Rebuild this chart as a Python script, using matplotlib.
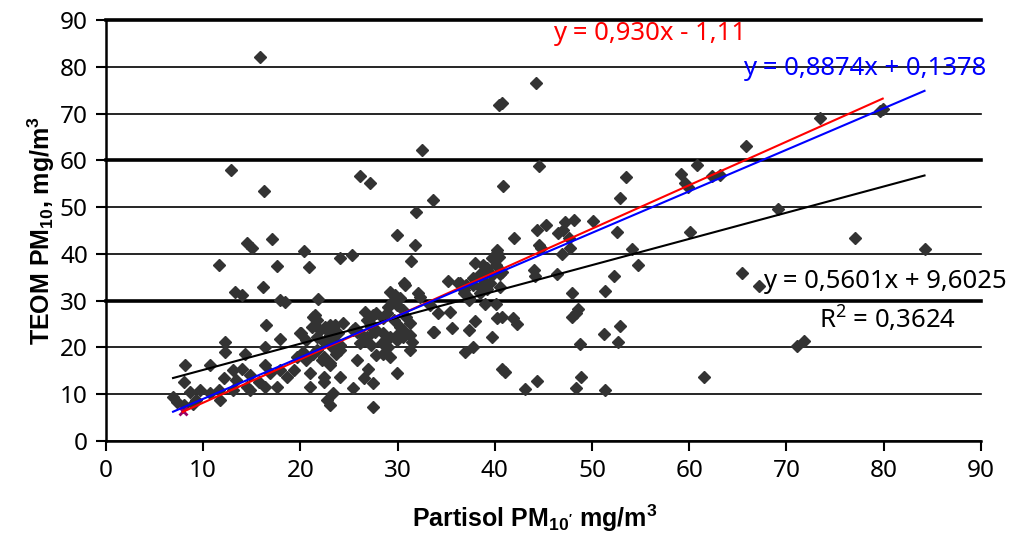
import numpy as np
import matplotlib
matplotlib.use("Agg")
import matplotlib.pyplot as plt

plt.rcParams['font.family'] = ['Noto Sans', 'DejaVu Sans']
plt.rcParams['mathtext.default'] = 'regular'

# Partisol PM10 (x) vs TEOM PM10 (y)
partisol = [
    15.8, 40.4, 40.7, 44.2, 32.5, 12.9, 44.5, 26.1, 27.2, 16.3,
    53.5, 52.9, 40.8, 33.6, 31.9, 59.1, 60.8, 59.6, 59.9, 62.3,
    63.2, 65.8, 73.5, 79.6, 79.9, 69.1, 60.1, 77.0, 84.2, 65.4,
    67.2, 71.1, 71.8, 61.5, 47.2, 48.1, 47.0, 46.5, 47.6, 47.7,
    46.9, 50.1, 52.6, 54.1, 54.7, 52.3, 51.3, 47.9, 48.6, 47.9,
    48.8, 48.9, 48.4, 51.3, 51.2, 52.9, 52.7, 46.4, 45.3, 44.3,
    42.0, 44.5, 44.8, 40.2, 39.7, 40.4, 40.1, 38.0, 38.8, 39.2,
    40.7, 44.0, 44.1, 37.8, 35.2, 36.2, 36.8, 38.5, 39.0, 39.5,
    40.5, 32.3, 33.3, 34.2, 35.4, 37.3, 39.0, 40.1, 40.2, 41.9,
    42.3, 48.4, 33.6, 35.6, 37.3, 38.0, 39.7, 40.7, 36.9, 37.8,
    40.7, 41.0, 44.3, 43.1, 29.9, 31.8, 20.4, 20.9, 24.1, 25.3,
    31.4, 36.4, 36.8, 37.8, 30.7, 32.1, 29.2, 29.7, 30.2, 29.4,
    29.0, 29.9, 30.6, 28.9, 29.6, 30.2, 31.3, 30.9, 30.1, 29.9,
    30.6, 31.3, 31.5, 21.8, 21.3, 21.7, 21.2, 22.0, 22.5, 23.0,
    23.7, 23.4, 24.1, 22.4, 21.7, 20.6, 20.0, 20.3, 25.6, 26.1,
    26.8, 27.8, 27.3, 28.5, 27.3, 27.7, 28.5, 27.3, 28.4, 29.0,
    28.5, 29.2, 27.8, 33.7, 31.3, 13.3, 14.0, 17.9, 18.4, 21.5,
    22.5, 23.6, 23.9, 16.5, 20.1, 17.9, 12.2, 12.2, 14.3, 16.4,
    8.1, 10.7, 8.0, 6.9, 8.6, 9.7, 10.7, 11.6, 12.1, 13.1,
    14.0, 14.8, 13.4, 14.5, 13.1, 15.7, 16.4, 16.9, 17.9, 17.6,
    18.6, 19.3, 19.6, 20.6, 21.7, 22.4, 23.0, 23.7, 21.0, 22.4,
    21.0, 22.4, 22.7, 23.0, 24.1, 9.3, 9.0, 8.0, 7.3, 11.7,
    14.8, 16.4, 25.4, 26.8, 27.5, 29.2, 29.9, 25.8, 25.4, 26.5,
    27.5, 27.5, 23.4, 22.2, 23.4, 23.0, 21.3, 24.1, 26.1, 27.8,
    28.7, 14.5, 15.0, 17.1, 11.6, 17.6, 16.2, 38.5, 39.7, 40.5,
    39.2, 38.5, 37.3, 37.0, 23.0, 24.4, 25.8, 27.2, 26.6, 30.6,
    30.8, 29.9, 40.2, 27.0,
]
teom = [
    82.0, 71.8, 72.2, 76.6, 62.2, 57.9, 58.8, 56.6, 55.1, 53.4,
    56.4, 51.9, 54.5, 51.6, 48.9, 57.1, 59.0, 55.1, 54.4, 56.6,
    56.9, 63.1, 69.0, 70.5, 70.9, 49.5, 44.7, 43.5, 41.1, 36.0,
    33.1, 20.3, 21.4, 13.7, 46.9, 47.2, 45.1, 44.4, 43.3, 41.2,
    40.0, 47.0, 44.7, 41.1, 37.6, 35.3, 32.1, 31.7, 28.2, 26.6,
    20.7, 13.6, 11.3, 10.9, 22.9, 24.6, 21.1, 35.8, 46.2, 45.1,
    43.5, 41.9, 41.2, 40.8, 39.1, 39.4, 37.6, 38.1, 37.6, 36.9,
    36.2, 36.6, 35.3, 34.8, 34.3, 33.7, 31.6, 33.0, 34.1, 33.7,
    33.0, 30.8, 29.1, 27.3, 27.6, 30.1, 29.3, 29.3, 26.2, 26.2,
    25.0, 27.4, 23.4, 24.1, 23.7, 25.7, 22.3, 26.6, 19.1, 20.2,
    15.5, 14.8, 12.9, 11.1, 44.0, 41.9, 40.7, 37.1, 39.1, 39.8,
    38.5, 33.7, 32.3, 33.3, 33.7, 31.6, 31.9, 31.2, 30.5, 29.8,
    28.7, 29.1, 28.0, 27.3, 25.9, 24.4, 25.2, 26.6, 23.0, 21.6,
    22.3, 22.7, 21.2, 30.3, 26.6, 25.9, 24.4, 23.7, 24.1, 22.7,
    23.4, 21.6, 20.5, 21.2, 22.3, 21.6, 23.0, 19.1, 24.1, 23.0,
    22.3, 27.3, 26.6, 26.2, 24.4, 23.4, 23.0, 20.5, 20.9, 20.2,
    18.7, 18.0, 18.4, 23.2, 19.5, 31.9, 31.2, 30.1, 29.8, 26.9,
    24.4, 24.8, 23.0, 24.8, 23.0, 21.9, 21.2, 19.1, 18.7, 20.2,
    16.2, 16.2, 12.7, 9.5, 10.5, 10.9, 10.2, 10.9, 13.4, 15.2,
    15.5, 14.1, 13.0, 11.6, 10.9, 12.7, 16.2, 14.5, 15.2, 11.6,
    13.7, 15.2, 18.0, 17.3, 19.5, 18.0, 16.6, 18.7, 14.5, 13.7,
    11.6, 12.7, 8.8, 7.7, 13.7, 8.8, 8.0, 7.7, 8.4, 8.8,
    10.9, 11.6, 23.7, 25.9, 26.9, 22.3, 14.5, 17.3, 11.3, 13.4,
    12.3, 7.2, 10.2, 17.3, 19.8, 16.2, 18.7, 19.5, 20.9, 23.7,
    21.6, 42.3, 41.2, 43.1, 37.6, 37.4, 33.0, 35.8, 35.5, 35.8,
    32.6, 31.6, 30.5, 33.3, 24.8, 25.2, 23.4, 25.2, 27.6, 23.7,
    33.3, 30.1, 40.1, 15.5,
]

# extra marker sitting at the start of the red line
extra_x = [7.9]
extra_y = [6.4]

# trend lines: (slope, intercept, x start, x end)
red_fit = (0.930, -1.11, 7.9, 79.9)
blue_fit = (0.8874, 0.1378, 6.9, 84.2)
black_fit = (0.5601, 9.6025, 6.9, 84.2)

xticks = np.arange(0, 91, 10)
yticks = np.arange(0, 91, 10)
thick_grid = [30, 60, 90]

fig = plt.figure(figsize=(10.15, 5.42), dpi=100)
ax = fig.add_axes([0.1044, 0.1863, 0.862, 0.7768])

ax.set_xlim(0, 90)
ax.set_ylim(0, 90)
ax.set_xticks(xticks)
ax.set_yticks(yticks)

ax.grid(axis='y', color='black', linewidth=1.2)
for val, gl in zip(yticks, ax.get_ygridlines()):
    gl.set_clip_on(False)
    if val in thick_grid:
        gl.set_linewidth(2.6)
ax.set_axisbelow(True)

ax.plot(partisol, teom, linestyle='none', marker='D', markersize=6.2,
        color='#333333', zorder=3)
ax.plot(extra_x, extra_y, linestyle='none', marker='x', markersize=6,
        markeredgewidth=2, color='#990066', zorder=4)

for (k, b, x0, x1), col in [(black_fit, 'black'), (red_fit, 'red'),
                            (blue_fit, 'blue')]:
    xs = np.array([x0, x1])
    ax.plot(xs, k * xs + b, color=col, linewidth=1.5, zorder=5)

ann = 18.5
ax.text(46.0, 87.2, 'y = 0,930x - 1,11', color='red', fontsize=ann,
        ha='left', va='center', clip_on=False)
ax.text(65.5, 79.7, 'y = 0,8874x + 0,1378', color='blue', fontsize=ann,
        ha='left', va='center', clip_on=False)
ax.text(67.6, 34.0, 'y = 0,5601x + 9,6025', color='black', fontsize=ann,
        ha='left', va='center', clip_on=False)
ax.text(73.3, 25.9, 'R$^2$ = 0,3624', color='black', fontsize=ann,
        ha='left', va='center', clip_on=False)

for side in ['top', 'right']:
    ax.spines[side].set_visible(False)
for side in ['left', 'bottom']:
    ax.spines[side].set_linewidth(1.8)

ax.tick_params(direction='out', length=7, width=1.5, labelsize=17.5, pad=6)

lab = dict(fontsize=18, fontweight='bold', family=['Liberation Sans', 'DejaVu Sans'])
ax.set_xlabel('Partisol PM$_{10\'}$ mg/m$^3$', labelpad=14, **lab)
ax.set_ylabel('TEOM PM$_{10}$, mg/m$^3$', labelpad=2, **lab)
ax.xaxis.label.set_x(0.49)

fig.savefig('out.png', dpi=100)
